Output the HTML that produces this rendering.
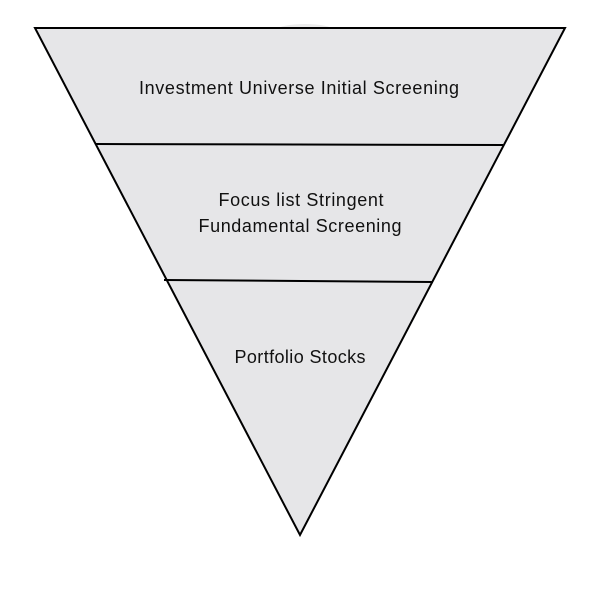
<!DOCTYPE html>
<html><head><style>body{margin:0;background:#fff}</style></head><body>
<svg width="600" height="600" viewBox="0 0 600 600" xmlns="http://www.w3.org/2000/svg">
<ellipse cx="305" cy="30" rx="28" ry="6" fill="#ececec"/>
<polygon points="35,28 565,28 300,535" fill="#e6e6e8" stroke="#000" stroke-width="2" stroke-linejoin="miter"/>
<line x1="96" y1="144" x2="503" y2="145" stroke="#000" stroke-width="2"/>
<line x1="164" y1="280" x2="433" y2="282" stroke="#000" stroke-width="2"/>
<g font-family="Liberation Sans, sans-serif" font-size="18" fill="#111" text-anchor="middle">
<text x="299" y="94" textLength="320" lengthAdjust="spacing">Investment Universe  Initial Screening</text>
<text x="301" y="206" textLength="165" lengthAdjust="spacing">Focus list  Stringent</text>
<text x="300" y="232" textLength="203" lengthAdjust="spacing">Fundamental  Screening</text>
<text x="300" y="363" textLength="131" lengthAdjust="spacing">Portfolio Stocks</text>
</g>
</svg>
</body></html>
